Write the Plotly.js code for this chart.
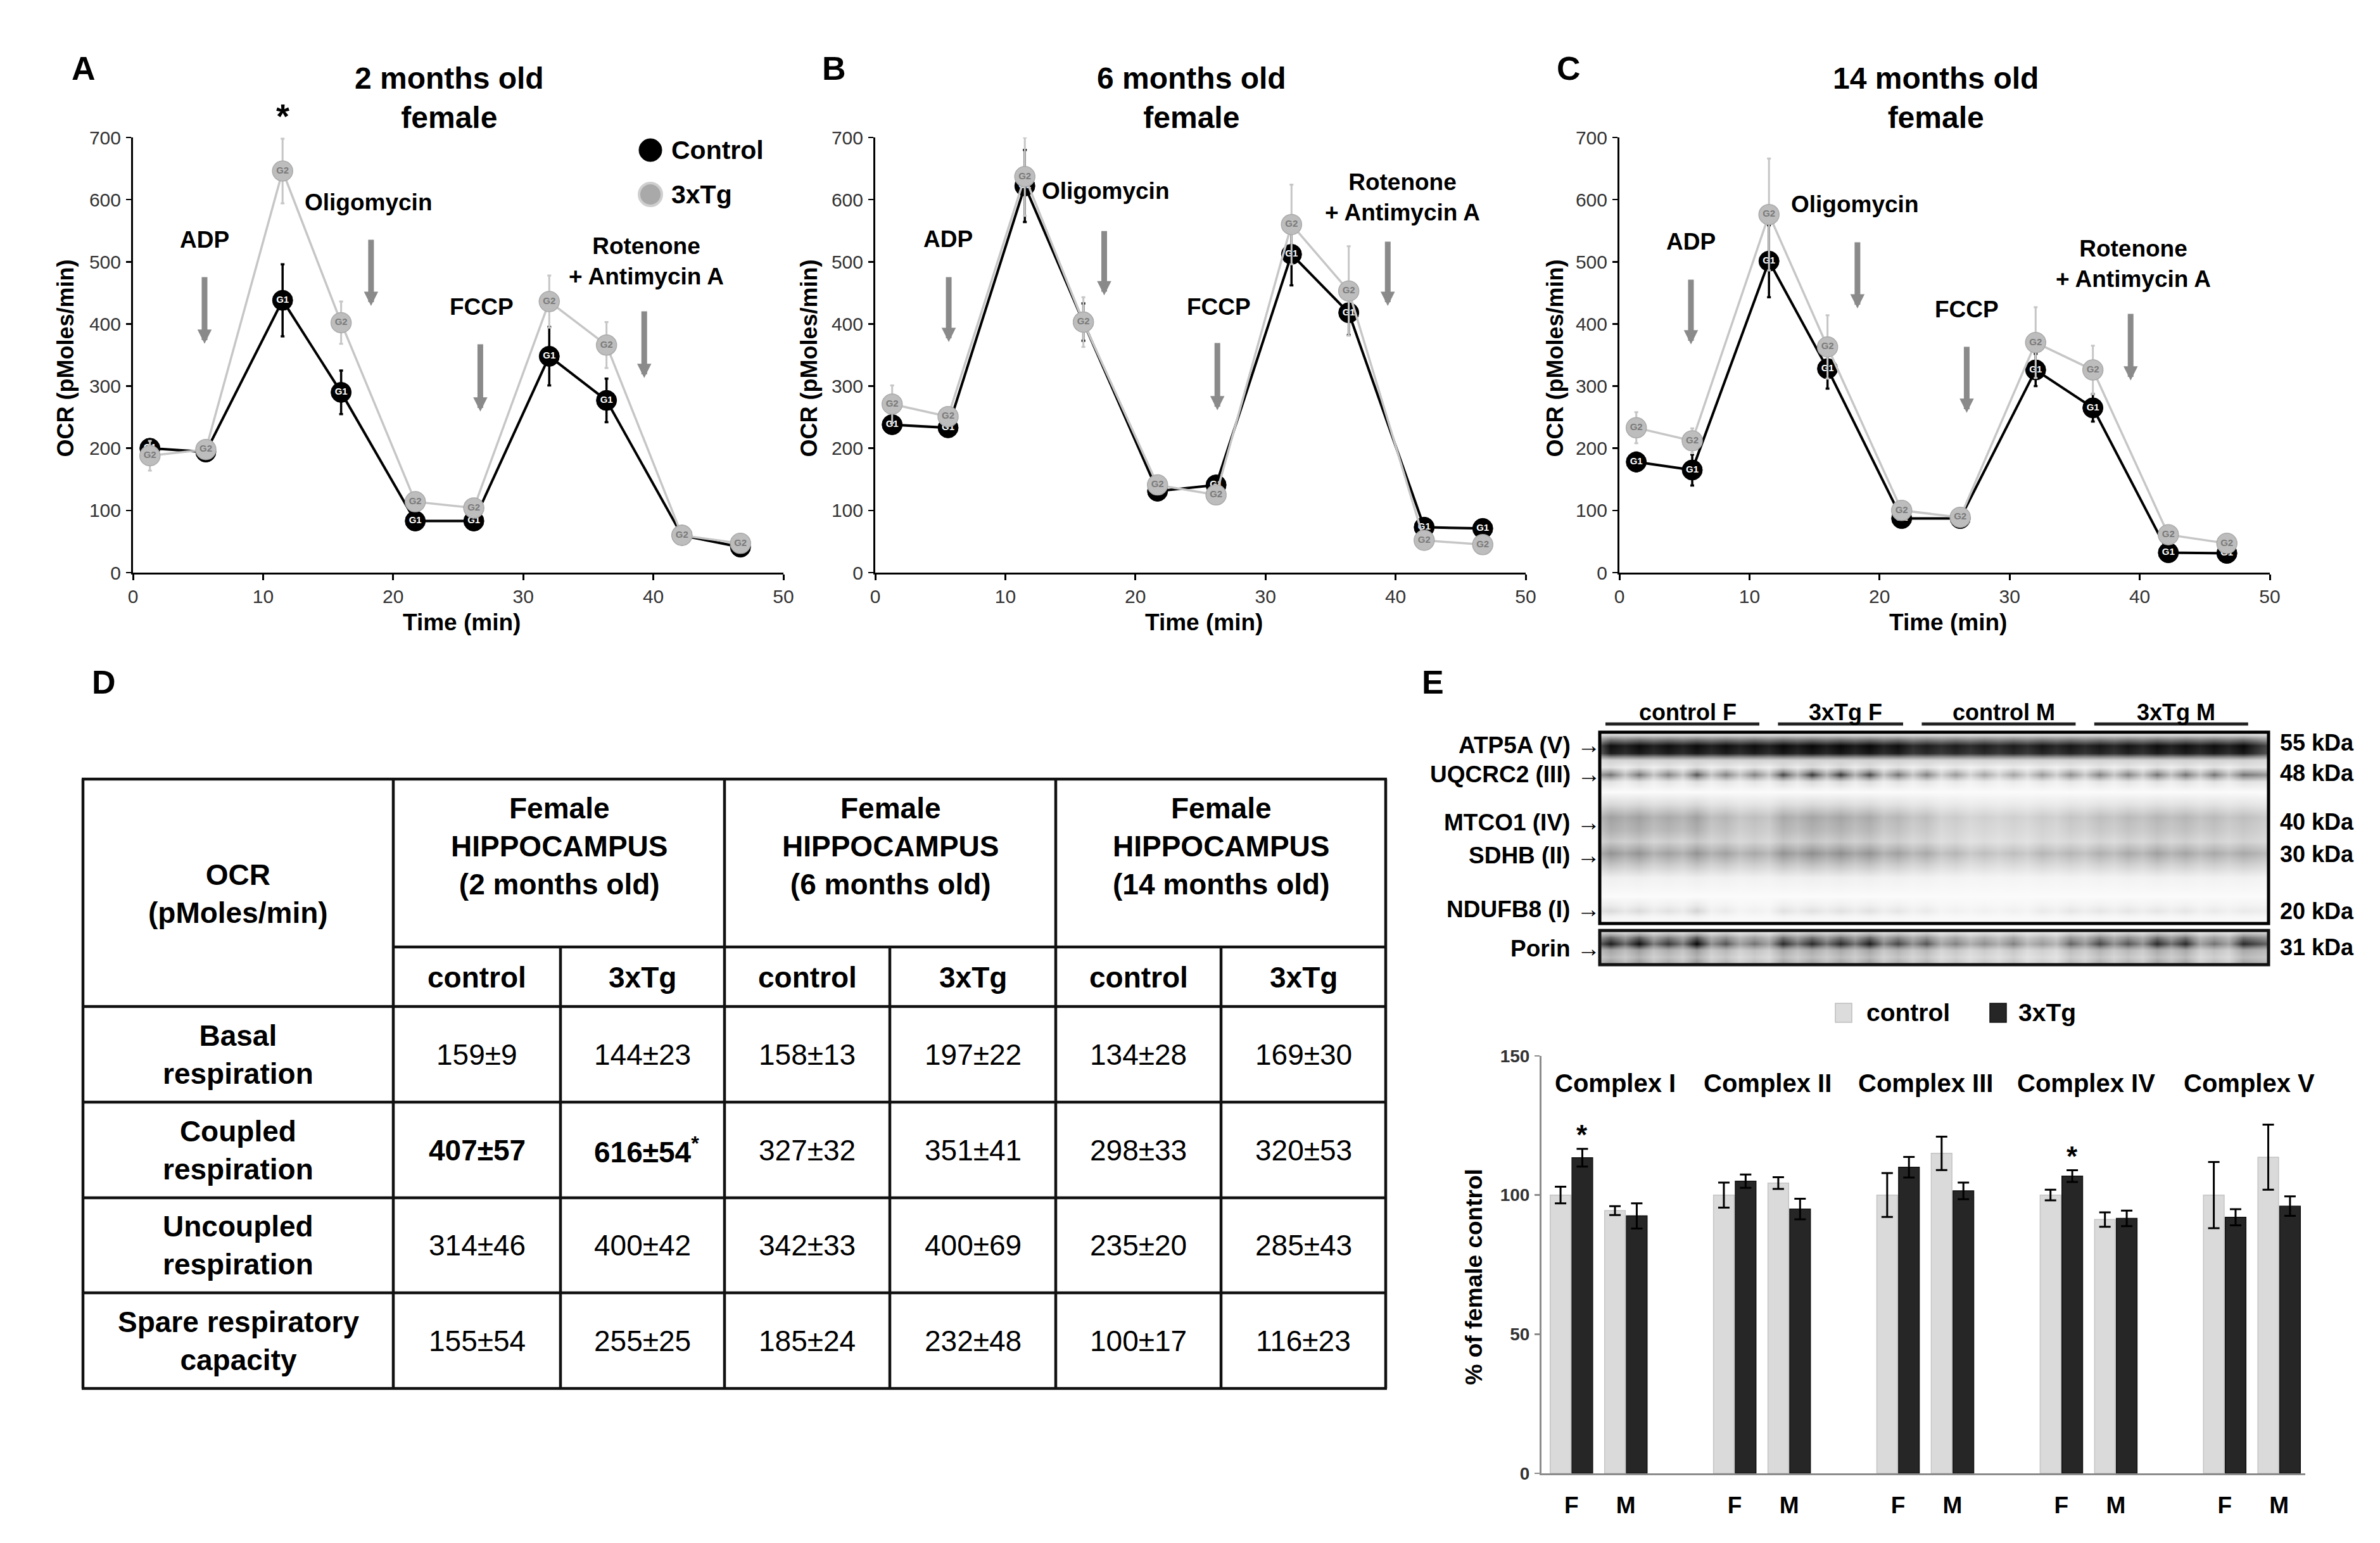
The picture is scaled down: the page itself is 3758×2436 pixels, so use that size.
<!DOCTYPE html>
<html><head><meta charset="utf-8">
<script src="https://cdn.plot.ly/plotly-3.0.1.min.js"></script>
<style>html,body{margin:0;padding:0;background:#fff}</style>
</head><body><div id="chart" style="width:3758px;height:2436px"></div>
<script>
// ================= DATA =================
// Panels A-C : OCR time course (pMoles/min)
const timeMin = [1.3, 5.6, 11.5, 16.0, 21.7, 26.2, 32.0, 36.4, 42.2, 46.7];
const control2m    = [200, 194, 438, 290, 83, 83, 348, 277, 60, 41];
const control2mErr = [10, 8, 58, 35, 6, 6, 47, 35, 5, 4];
const tg2m         = [188, 198, 646, 402, 114, 104, 436, 366, 60, 47];
const tg2mErr      = [24, 10, 52, 34, 8, 6, 42, 37, 6, 5];
const control6m    = [238, 233, 622, 403, 131, 141, 512, 418, 73, 71];
const control6mErr = [8, 12, 58, 30, 6, 8, 50, 36, 6, 5];
const tg6m         = [271, 251, 637, 403, 141, 125, 560, 453, 52, 45];
const tg6mErr      = [30, 10, 63, 40, 6, 6, 64, 72, 5, 5];
const control14m    = [178, 165, 501, 328, 87, 87, 326, 265, 32, 31];
const control14mErr = [15, 25, 58, 32, 6, 6, 26, 22, 5, 5];
const tg14m         = [233, 212, 576, 363, 100, 89, 370, 326, 61, 47];
const tg14mErr      = [25, 20, 90, 51, 8, 6, 57, 39, 8, 5];
const injectionNames = ['ADP', 'Oligomycin', 'FCCP', 'Rotenone<br>+ Antimycin A'];
const groupNames = ['Control', '3xTg'];
const panelTitles = ['2 months old<br>female', '6 months old<br>female', '14 months old<br>female'];

// Panel D : table
const tableCorner = 'OCR<br>(pMoles/min)';
const tableAges = ['(2 months old)', '(6 months old)', '(14 months old)'];
const tableSubCols = ['control', '3xTg'];
const tableRowNames = ['Basal<br>respiration', 'Coupled<br>respiration', 'Uncoupled<br>respiration', 'Spare respiratory<br>capacity'];
const basalMean = [159, 144, 158, 197, 134, 169];
const basalSem  = [9, 23, 13, 22, 28, 30];
const coupledMean = [407, 616, 327, 351, 298, 320];
const coupledSem  = [57, 54, 32, 41, 33, 53];
const uncoupledMean = [314, 400, 342, 400, 235, 285];
const uncoupledSem  = [46, 42, 33, 69, 20, 43];
const spareMean = [155, 255, 185, 232, 100, 116];
const spareSem  = [54, 25, 24, 48, 17, 23];
const coupledSignificant = [true, true, false, false, false, false];
const coupledStar = [false, true, false, false, false, false];

// Panel E : western blot (relative band darkness per lane, 23 lanes)
const blotGroups = ['control F', '3xTg F', 'control M', '3xTg M'];
const blotGroupLanes = [6, 5, 6, 6];
const bandLabels = ['ATP5A (V)', 'UQCRC2 (III)', 'MTCO1 (IV)', 'SDHB (II)', 'NDUFB8 (I)'];
const bandKDa = ['55 kDa', '48 kDa', '40 kDa', '30 kDa', '20 kDa'];
const atp5a  = [0.95,0.96,0.95,0.96,0.95,0.95, 0.97,0.97,0.97,0.97,0.95, 0.9,0.9,0.9,0.9,0.92,0.92, 0.92,0.93,0.95,0.95,0.95,0.97];
const uqcrc2 = [0.6,0.6,0.55,0.7,0.55,0.55, 0.75,0.8,0.8,0.75,0.6, 0.55,0.45,0.4,0.4,0.45,0.5, 0.55,0.55,0.6,0.6,0.6,0.6];
const mtco1  = [0.42,0.42,0.38,0.42,0.32,0.28, 0.38,0.4,0.4,0.38,0.32, 0.28,0.22,0.2,0.2,0.22,0.25, 0.28,0.3,0.32,0.32,0.3,0.28];
const sdhb   = [0.48,0.48,0.42,0.48,0.42,0.38, 0.48,0.5,0.5,0.48,0.42, 0.38,0.32,0.28,0.28,0.32,0.32, 0.35,0.38,0.42,0.4,0.38,0.38];
const ndufb8 = [0.15,0.15,0.12,0.18,0.08,0.05, 0.12,0.12,0.12,0.12,0.1, 0.08,0.05,0.05,0.05,0.08,0.1, 0.1,0.1,0.1,0.1,0.08,0.08];
const porinLabel = 'Porin';
const porinKDa = '31 kDa';
const porin  = [0.9,0.95,0.8,0.98,0.7,0.6, 0.85,0.85,0.85,0.9,0.75, 0.7,0.55,0.5,0.55,0.45,0.65, 0.75,0.7,0.85,0.85,0.6,0.85];

// Panel E : densitometry (% of female control)
const complexes = ['Complex I', 'Complex II', 'Complex III', 'Complex IV', 'Complex V'];
const sexes = ['F', 'M'];
const controlPct    = [100, 94.4, 100, 104.3, 100, 115, 100, 91.2, 100, 113.6];
const controlPctErr = [3, 1.6, 4.5, 2.1, 7.9, 6, 1.9, 2.6, 11.9, 11.7];
const tgPct         = [113.4, 92.5, 105, 95, 110, 101.5, 106.8, 91.6, 92, 96];
const tgPctErr      = [3.2, 4.5, 2.4, 3.7, 3.7, 3, 2.1, 2.8, 2.9, 3.5];
const tgPctSignificant = [true, false, false, false, false, false, true, false, false, false];
const barLegend = ['control', '3xTg'];

// ================= DRAWING =================
const W = 3758, H = 2436;
const px = v => v / W;
const py = v => 1 - v / H;
const FONT = 'Liberation Sans, Arial, sans-serif';
const traces = [];
const shapes = [];
const annotations = [];
function txt(text, x, y, size, opts) {
  opts = opts || {};
  annotations.push(Object.assign({
    text: text, x: x, y: y, xref: 'paper', yref: 'paper', showarrow: false,
    xanchor: 'center', yanchor: 'middle',
    font: {family: FONT, size: size, color: '#000', weight: opts.bold === false ? 'normal' : 'bold'}
  }, opts.extra || {}));
}
function line(x0, y0, x1, y1, w, c) {
  shapes.push({type: 'line', xref: 'paper', yref: 'paper', x0: px(x0), y0: py(y0), x1: px(x1), y1: py(y1),
    line: {color: c || '#111', width: w}});
}

const layout = {
  width: W, height: H, autosize: false,
  margin: {l: 0, r: 0, t: 0, b: 0},
  paper_bgcolor: '#fff', plot_bgcolor: 'rgba(0,0,0,0)',
  showlegend: false, barmode: 'group', bargap: 0.2, bargroupgap: 0.05,
  font: {family: FONT}
};

// ---- Panels A-C ----
const ocrPanels = [
  {letter: 'A', letterX: 132, x0: 210, x1: 1237, ctrl: control2m, ctrlErr: control2mErr, tg: tg2m, tgErr: tg2mErr,
   yTitleX: 103, arrows: [[5.5, 484, 368], [18.3, 544, 429], [26.7, 376, 259], [39.3, 429, 313]],
   labelPos: [[5.5, 535], [18.1, 596], [26.8, 427], [39.45, 501]], star: [11.5, 743], legend: true},
  {letter: 'B', letterX: 1317, x0: 1382, x1: 2409, ctrl: control6m, ctrlErr: control6mErr, tg: tg6m, tgErr: tg6mErr,
   yTitleX: 1277, arrows: [[5.65, 484, 371], [17.6, 558, 446], [26.3, 378, 261], [39.4, 541, 429]],
   labelPos: [[5.6, 536], [17.7, 614], [26.4, 427], [40.55, 604]]},
  {letter: 'C', letterX: 2477, x0: 2557, x1: 3584, ctrl: control14m, ctrlErr: control14mErr, tg: tg14m, tgErr: tg14mErr,
   yTitleX: 2455, arrows: [[5.5, 480, 367], [18.3, 540, 425], [26.7, 372, 257], [39.3, 425, 309]],
   labelPos: [[5.5, 532], [18.1, 592], [26.7, 423], [39.5, 497]]}
];
const yTop = 217, yBot = 904;
ocrPanels.forEach((p, i) => {
  const n = i === 0 ? '' : String(i + 1);
  const xa = 'x' + n, ya = 'y' + n;
  layout['xaxis' + n] = {domain: [px(p.x0), px(p.x1)], anchor: ya, range: [0, 50], tickvals: [0, 10, 20, 30, 40, 50],
    showline: true, linecolor: '#000', linewidth: 3, ticks: 'outside', ticklen: 9, tickwidth: 3, tickcolor: '#000',
    showgrid: false, zeroline: false, ticklabelstandoff: 0, tickfont: {family: FONT, size: 30, color: '#333'}, fixedrange: true};
  layout['yaxis' + n] = {domain: [py(yBot), py(yTop)], anchor: xa, range: [0, 700], tickvals: [0, 100, 200, 300, 400, 500, 600, 700],
    showline: true, linecolor: '#000', linewidth: 3, ticks: 'outside', ticklen: 8, tickwidth: 2.5, tickcolor: '#000',
    showgrid: false, zeroline: false, ticklabelstandoff: 2, tickfont: {family: FONT, size: 30, color: '#333'}, fixedrange: true};
  traces.push({type: 'scatter', mode: 'lines+markers+text', x: timeMin, y: p.ctrl, xaxis: xa, yaxis: ya, name: groupNames[0],
    text: timeMin.map(() => 'G1'), textposition: 'middle center', cliponaxis: false,
    textfont: {family: FONT, size: 15, color: '#fff', weight: 'bold'},
    line: {color: '#000', width: 4}, marker: {size: 32, color: '#000', line: {color: '#000', width: 1}},
    error_y: {type: 'data', array: p.ctrlErr, color: '#000', thickness: 3.5, width: 3}, hoverinfo: 'skip'});
  traces.push({type: 'scatter', mode: 'lines+markers+text', x: timeMin, y: p.tg, xaxis: xa, yaxis: ya, name: groupNames[1],
    text: timeMin.map(() => 'G2'), textposition: 'middle center', cliponaxis: false,
    textfont: {family: FONT, size: 15, color: '#7a7a7a', weight: 'bold'},
    line: {color: '#c6c6c6', width: 3.5}, marker: {size: 32, color: '#bdbdbd', line: {color: '#aaaaaa', width: 1.5}},
    error_y: {type: 'data', array: p.tgErr, color: '#c6c6c6', thickness: 3, width: 3}, hoverinfo: 'skip'});
  p.arrows.forEach(a => annotations.push({xref: xa, yref: ya, axref: xa, ayref: ya, x: a[0], y: a[2], ax: a[0], ay: a[1],
    text: ' ', showarrow: true, arrowhead: 2, arrowwidth: 9, arrowsize: 0.5, arrowcolor: '#8a8a8a', standoff: 0, startstandoff: 0}));
  p.labelPos.forEach((lp, k) => annotations.push({xref: xa, yref: ya, x: lp[0], y: lp[1], text: injectionNames[k], showarrow: false,
    font: {family: FONT, size: 37, color: '#000', weight: 'bold'}}));
  if (p.star) {
    // star sits above the axis range, so it is placed in paper units converted from the axis scale
    const sx = p.x0 + (p.star[0] / 50) * (p.x1 - p.x0);
    const sy = yBot - (p.star[1] / 700) * (yBot - yTop);
    txt('*', px(sx), py(sy + 8), 54);
  }
  txt(panelTitles[i], px((p.x0 + p.x1) / 2 - 14), py(155), 48);
  txt(p.letter, px(p.letterX), py(108), 52);
  txt('OCR (pMoles/min)', px(p.yTitleX), py((yTop + yBot) / 2 + 5), 36, {extra: {textangle: -90}});
  txt('Time (min)', px((p.x0 + p.x1) / 2 + 5), py(982), 37);
  if (p.legend) {
    shapes.push({type: 'circle', xref: 'paper', yref: 'paper', x0: px(1009), x1: px(1045), y0: py(219), y1: py(255),
      fillcolor: '#000', line: {color: '#000', width: 1}});
    shapes.push({type: 'circle', xref: 'paper', yref: 'paper', x0: px(1009), x1: px(1045), y0: py(289), y1: py(325),
      fillcolor: '#a9a9a9', line: {color: '#cfcfcf', width: 4}});
    txt(groupNames[0], px(1058), py(237), 41, {extra: {xanchor: 'left'}});
    txt(groupNames[1], px(1058), py(307), 41, {extra: {xanchor: 'left'}});
  }
});

// ---- Panel D : table ----
txt('D', px(164), py(1077), 52);
const colX = [131, 621, 885, 1144, 1405, 1667, 1928, 2188];
const rowY = [1230, 1495, 1589, 1740, 1891, 2041, 2192];
const TW = 4.5;
[1230, 1589, 1740, 1891, 2041, 2192].forEach(y => line(colX[0] - 2, y, colX[7] + 2, y, TW));
line(colX[1], rowY[1], colX[7], rowY[1], TW);
[colX[0], colX[1], colX[3], colX[5], colX[7]].forEach(x => line(x, rowY[0], x, rowY[6], TW));
[colX[2], colX[4], colX[6]].forEach(x => line(x, rowY[1], x, rowY[6], TW));
txt(tableCorner, px((colX[0] + colX[1]) / 2), py(1411), 46);
tableAges.forEach((age, g) => {
  txt('Female<br>HIPPOCAMPUS<br>' + age, px((colX[1 + 2 * g] + colX[3 + 2 * g]) / 2), py(1336), 46);
  tableSubCols.forEach((s, j) => txt(s, px((colX[1 + 2 * g + j] + colX[2 + 2 * g + j]) / 2), py(1543), 46));
});
const tableRows = [
  {mean: basalMean, sem: basalSem},
  {mean: coupledMean, sem: coupledSem, bold: coupledSignificant, star: coupledStar},
  {mean: uncoupledMean, sem: uncoupledSem},
  {mean: spareMean, sem: spareSem}
];
tableRows.forEach((r, ri) => {
  const cy = (rowY[2 + ri] + rowY[3 + ri]) / 2;
  txt(tableRowNames[ri], px((colX[0] + colX[1]) / 2), py(cy), 46);
  r.mean.forEach((m, c) => {
    const isBold = r.bold ? r.bold[c] : false;
    const star = r.star && r.star[c] ? '<sup>*</sup>' : '';
    txt(m + '±' + r.sem[c] + star, px((colX[1 + c] + colX[2 + c]) / 2 + (star ? 6 : 0)), py(cy), 46, {bold: isBold});
  });
});

// ---- Panel E : blot ----
txt('E', px(2262), py(1077), 52);
const blotX0 = 2526, blotX1 = 3582, laneStart = 2543, laneStep = 45.4;
const xr = [(blotX0 - laneStart) / laneStep, (blotX1 - laneStart) / laneStep];
function laneColumns(vals, gap) {
  const xs = [xr[0]], zs = [vals[0] * 0.75];
  vals.forEach((v, i) => {
    xs.push(i); zs.push(v);
    if (i < vals.length - 1) { xs.push(i + 0.5); zs.push(gap * Math.min(v, vals[i + 1])); }
  });
  xs.push(xr[1]); zs.push(vals[vals.length - 1] * 0.75);
  return {xs: xs, zs: zs};
}
const bandCols = {
  a: laneColumns(atp5a, 0.93), u: laneColumns(uqcrc2, 0.45), m: laneColumns(mtco1, 0.85),
  s: laneColumns(sdhb, 0.8), n: laneColumns(ndufb8, 0.6), p: laneColumns(porin, 0.7)
};
const blotProfile = [[1157, null, 0], [1166, 'a', 0.55], [1177, 'a', 1], [1189, 'a', 0.95], [1200, 'a', 0.2], [1211, 'u', 0.2],
  [1223, 'u', 1], [1234, 'u', 0.2], [1250, null, 0], [1270, 'm', 0.4], [1290, 'm', 1], [1310, 'm', 0.85], [1328, 's', 0.5],
  [1347, 's', 1], [1365, 's', 0.55], [1385, 's', 0.12], [1415, null, 0], [1429, 'n', 0.5], [1438, 'n', 1], [1447, 'n', 0.3], [1457, null, 0]];
const porinProfile = [[1470, 'p', 0.15], [1480, 'p', 0.7], [1490, 'p', 1], [1500, 'p', 0.45], [1511, 'p', 0.35], [1521, 'p', 0.5]];
function buildZ(profile) {
  return profile.map(row => bandCols.a.xs.map((x, j) => Math.min(1, 0.02 + (row[1] ? row[2] * bandCols[row[1]].zs[j] : 0))));
}
const greyScale = [[0, '#ffffff'], [0.5, '#939393'], [1, '#050505']];
traces.push({type: 'heatmap', x: bandCols.a.xs, y: blotProfile.map(r => r[0]), z: buildZ(blotProfile), zsmooth: 'best',
  zmin: 0, zmax: 1, colorscale: greyScale, showscale: false, xaxis: 'x5', yaxis: 'y5', hoverinfo: 'skip'});
traces.push({type: 'heatmap', x: bandCols.a.xs, y: porinProfile.map(r => r[0]), z: buildZ(porinProfile), zsmooth: 'best',
  zmin: 0, zmax: 1, colorscale: greyScale, showscale: false, xaxis: 'x6', yaxis: 'y6', hoverinfo: 'skip'});
layout.xaxis5 = {domain: [px(blotX0), px(blotX1)], anchor: 'y5', range: xr, visible: false, fixedrange: true};
layout.yaxis5 = {domain: [py(1458), py(1156)], anchor: 'x5', range: [1458, 1156], visible: false, fixedrange: true};
layout.xaxis6 = {domain: [px(blotX0), px(blotX1)], anchor: 'y6', range: xr, visible: false, fixedrange: true};
layout.yaxis6 = {domain: [py(1523), py(1469)], anchor: 'x6', range: [1523, 1469], visible: false, fixedrange: true};
shapes.push({type: 'rect', xref: 'paper', yref: 'paper', x0: px(blotX0), x1: px(blotX1), y0: py(1458), y1: py(1156), line: {color: '#000', width: 5}});
shapes.push({type: 'rect', xref: 'paper', yref: 'paper', x0: px(blotX0), x1: px(blotX1), y0: py(1523), y1: py(1469), line: {color: '#111', width: 5}});
// group labels
let laneIdx = 0;
blotGroups.forEach((g, k) => {
  const first = laneIdx, last = laneIdx + blotGroupLanes[k] - 1;
  laneIdx += blotGroupLanes[k];
  const xa = laneStart + first * laneStep - 8, xb = laneStart + last * laneStep + 8;
  line(xa, 1143, xb, 1143, 5, '#222');
  txt(g, px((xa + xb) / 2 + 8), py(1124), 36);
});
const bandLabelY = [1177, 1222, 1298, 1350, 1436];
const kdaY = [1172, 1220, 1297, 1348, 1438];
bandLabels.forEach((b, k) => {
  txt(b + ' →', px(2529), py(bandLabelY[k]), 37, {extra: {xanchor: 'right'}});
  txt(bandKDa[k], px(3598), py(kdaY[k]), 36, {extra: {xanchor: 'left'}});
});
txt(porinLabel + ' →', px(2529), py(1497), 37, {extra: {xanchor: 'right'}});
txt(porinKDa, px(3598), py(1495), 36, {extra: {xanchor: 'left'}});

// ---- Panel E : bar chart ----
const barPos = [];
complexes.forEach((c, k) => sexes.forEach((s, j) => barPos.push(k * 3 + j)));
traces.push({type: 'bar', x: barPos, y: controlPct, name: barLegend[0], xaxis: 'x4', yaxis: 'y4',
  marker: {color: '#dadada', line: {color: '#c4c4c4', width: 1.5}},
  error_y: {type: 'data', array: controlPctErr, color: '#000', thickness: 3, width: 9}, hoverinfo: 'skip'});
traces.push({type: 'bar', x: barPos, y: tgPct, name: barLegend[1], xaxis: 'x4', yaxis: 'y4',
  marker: {color: '#262626', line: {color: '#111', width: 1.5}},
  error_y: {type: 'data', array: tgPctErr, color: '#000', thickness: 3, width: 9}, hoverinfo: 'skip'});
layout.xaxis4 = {domain: [px(2434), px(3640)], anchor: 'y4', range: [-0.55, 13.48], tickvals: barPos,
  ticktext: barPos.map((p, i) => sexes[i % 2]), ticks: '', showline: true, linecolor: '#8c8c8c', linewidth: 3,
  showgrid: false, zeroline: false, ticklabelstandoff: 16, tickfont: {family: FONT, size: 37, color: '#000', weight: 'bold'}, fixedrange: true};
layout.yaxis4 = {domain: [py(2326), py(1667)], anchor: 'x4', range: [0, 150], tickvals: [0, 50, 100, 150],
  showline: true, linecolor: '#8c8c8c', linewidth: 3, ticks: 'outside', ticklen: 8, tickwidth: 2.5, tickcolor: '#8c8c8c',
  showgrid: false, zeroline: false, ticklabelstandoff: 2, tickfont: {family: FONT, size: 28, color: '#333', weight: 'bold'}, fixedrange: true};
const complexLabelX = [0.8, 3.6, 6.5, 9.45, 12.45];
complexes.forEach((c, k) => annotations.push({xref: 'x4', yref: 'y4', x: complexLabelX[k], y: 140.2, text: c, showarrow: false,
  font: {family: FONT, size: 40, color: '#000', weight: 'bold'}}));
tgPctSignificant.forEach((sig, i) => { if (sig) annotations.push({xref: 'x4', yref: 'y4', x: barPos[i] + 0.2,
  y: tgPct[i] + tgPctErr[i] + 5, text: '*', showarrow: false, font: {family: FONT, size: 44, color: '#000', weight: 'bold'}}); });
txt('% of female control', px(2327), py((2326 + 1667) / 2 + 20), 37, {extra: {textangle: -90}});
shapes.push({type: 'rect', xref: 'paper', yref: 'paper', x0: px(2898), x1: px(2924), y0: py(1614), y1: py(1584),
  fillcolor: '#dcdcdc', line: {color: '#bdbdbd', width: 1.5}});
shapes.push({type: 'rect', xref: 'paper', yref: 'paper', x0: px(3142), x1: px(3168), y0: py(1614), y1: py(1584),
  fillcolor: '#262626', line: {color: '#111', width: 1.5}});
txt(barLegend[0], px(2945), py(1598), 39, {extra: {xanchor: 'left'}});
txt(barLegend[1], px(3185), py(1598), 39, {extra: {xanchor: 'left'}});

layout.shapes = shapes;
layout.annotations = annotations;
Plotly.newPlot('chart', traces, layout, {staticPlot: true, displayModeBar: false});
</script></body></html>
